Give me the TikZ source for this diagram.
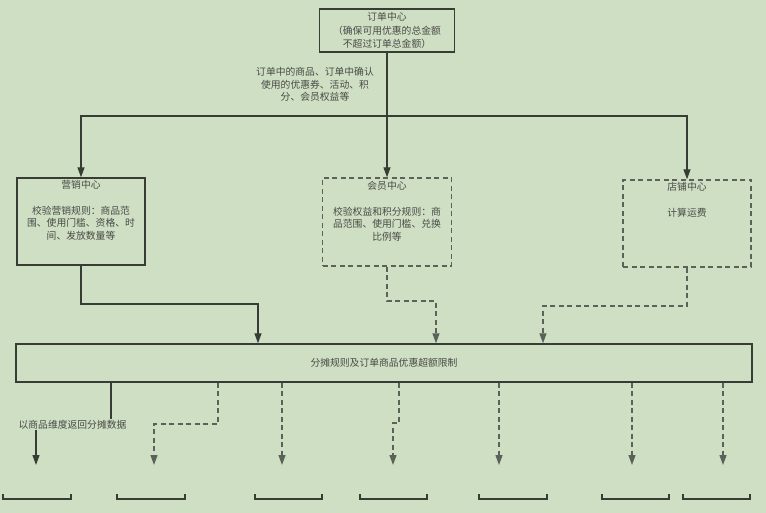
\documentclass[tikz,border=0pt]{standalone}
\usepackage{fontspec}
\setmainfont{Noto Sans CJK SC}
\usetikzlibrary{arrows.meta}
\definecolor{bgGreen}{RGB}{207,223,196}
\definecolor{lineDark}{RGB}{55,60,53}
\definecolor{lineGrey}{RGB}{92,98,90}
\definecolor{textGrey}{RGB}{72,74,70}
\def\slotEdge#1#2{\draw[solid edge] (#1,494)--(#1,499)--(#2,499)--(#2,494);}

\begin{document}
\begin{tikzpicture}[x=1pt, y=-1pt, line width=1.2pt,
		solid edge/.style={draw=lineDark},
		dash edge/.style={draw=lineGrey, dash pattern=on 5pt off 3.5pt},
		arr/.style={-{Triangle[length=10pt,width=7pt]}},
		frame/.style={draw=lineDark, line width=1.4pt, inner sep=0pt},
		dash frame/.style={draw=lineGrey, line width=1.4pt, inner sep=0pt, dash pattern=on 5pt off 3.5pt},
		txt/.style={font=\fontsize{9.8}{12.5}\selectfont, text=textGrey, align=center, inner sep=0pt}]
		\fill[bgGreen] (0,0) rectangle (766,513);
		\useasboundingbox (0,0) rectangle (766,513);
		
		% order centre
		\node[frame, txt, font=\fontsize{9.8}{13.5}\selectfont, minimum width=135pt, minimum height=43pt] (order) at (387,30.5) {订单中心\\（确保可用优惠的总金额\\不超过订单总金额）};
		\node[txt] (orderNote) at (315,84.5) {订单中的商品、订单中确认\\使用的优惠券、活动、积\\分、会员权益等};
		\coordinate (split) at (387,116);
		
		% checking centres
		\node[frame, minimum width=128pt, minimum height=87pt] (mkt) at (81,221.5) {};
		\node[txt] (mktTitle) at (81,185) {营销中心};
		\node[txt] (mktBody) at (81,223) {校验营销规则：商品范\\围、使用门槛、资格、时\\间、发放数量等};
		
		\node[dash frame, minimum width=129pt, minimum height=88pt] (member) at (387,222) {};
		\node[txt] (memberTitle) at (387,186) {会员中心};
		\node[txt] (memberBody) at (387,224) {校验权益和积分规则：商\\品范围、使用门槛、兑换\\比例等};
		
		\node[dash frame, minimum width=128pt, minimum height=87pt] (store) at (687,223.5) {};
		\node[txt] (storeTitle) at (687,187) {店铺中心};
		\node[txt] (storeBody) at (687,213) {计算运费};
		
		\draw[solid edge] (order.south) -- (split);
		\draw[solid edge, arr] (split) -| (mkt.north);
		\draw[solid edge, arr] (split) -- (member.north);
		\draw[solid edge, arr] (split) -| (store.north);
		
		% apportion box
		\node[frame, txt, minimum width=736pt, minimum height=38pt] (big) at (384,363) {分摊规则及订单商品优惠超额限制};
		
		\coordinate (mktBend) at (258,304);
		\coordinate (memBend) at (436,301);
		\coordinate (storeBend) at (543,306);
		\draw[solid edge, arr] (mkt.south) |- (mktBend) -- (mktBend |- big.north);
		\draw[dash edge, arr] (member.south) |- (memBend) -- (memBend |- big.north);
		\draw[dash edge, arr] (store.south) |- (storeBend) -- (storeBend |- big.north);
		
		% results
		\node[txt] (retNote) at (72.5,425) {以商品维度返回分摊数据};
		\coordinate (retIn) at (111,419);
		\coordinate (end1) at (36,465);
		\coordinate (bend2) at (218,424);
		\coordinate (end2) at (154,465);
		\coordinate (end3) at (282,465);
		\coordinate (bend4) at (399,423);
		\coordinate (end4) at (393,465);
		\coordinate (end5) at (499,465);
		\coordinate (end6) at (632,465);
		\coordinate (end7) at (723,465);
		
		\draw[solid edge] (big.south -| retIn) -- (retIn);
		\draw[solid edge, arr] (retNote.south -| end1) -- (end1);
		\draw[dash edge, arr] (big.south -| bend2) -- (bend2) -| (end2);
		\draw[dash edge, arr] (big.south -| end3) -- (end3);
		\draw[dash edge, arr] (big.south -| bend4) -- (bend4) -| (end4);
		\draw[dash edge, arr] (big.south -| end5) -- (end5);
		\draw[dash edge, arr] (big.south -| end6) -- (end6);
		\draw[dash edge, arr] (big.south -| end7) -- (end7);
		
		% cut-off boxes
		\slotEdge{3}{71}
		\slotEdge{117}{185}
		\slotEdge{255}{322}
		\slotEdge{360}{427}
		\slotEdge{479}{547}
		\slotEdge{602}{669}
		\slotEdge{683}{750}
\end{tikzpicture}
\end{document}
